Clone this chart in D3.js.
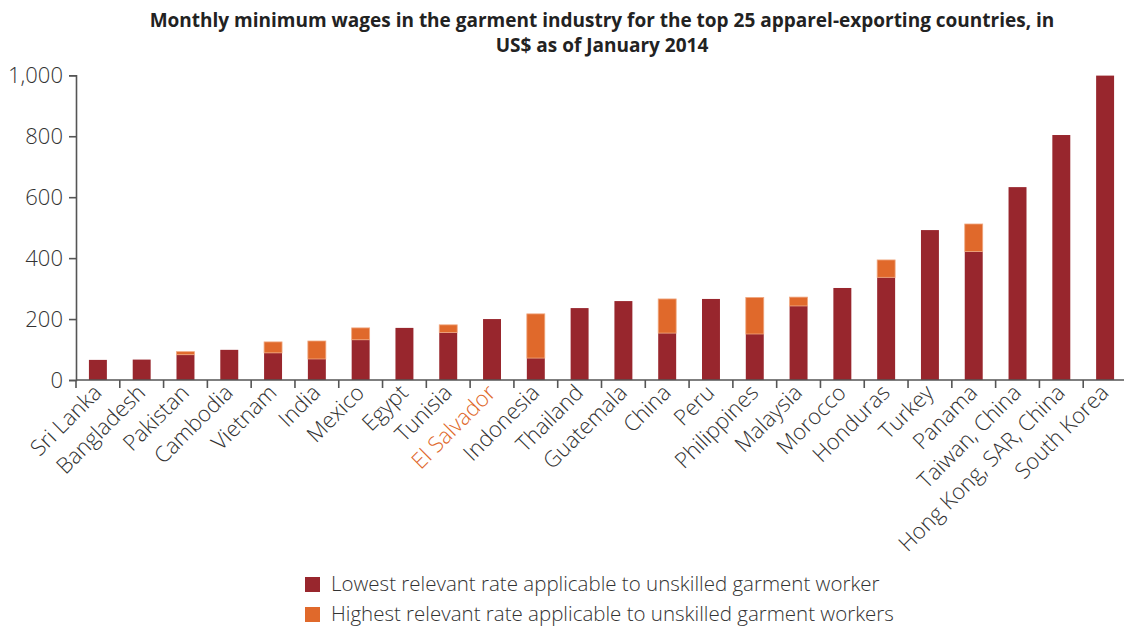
<!DOCTYPE html>
<html>
<head>
<meta charset="utf-8">
<script src="https://cdn.jsdelivr.net/npm/d3@7"></script>
<style>
  body { margin: 0; background: #fff; }
  text { font-family: "Open Sans", sans-serif; }
</style>
</head>
<body>
<svg id="chart" width="1124" height="630"></svg>
<script>
// data
const countries = ["Sri Lanka", "Bangladesh", "Pakistan", "Cambodia", "Vietnam", "India", "Mexico", "Egypt",
  "Tunisia", "El Salvador", "Indonesia", "Thailand", "Guatemala", "China", "Peru", "Philippines",
  "Malaysia", "Morocco", "Honduras", "Turkey", "Panama", "Taiwan, China", "Hong Kong, SAR, China", "South Korea"]
const lowest = [66, 67, 83, 99, 89, 69, 132, 171, 156, 200, 72, 236, 259, 154, 266, 151,
  243, 302, 337, 492, 422, 633, 804, 999]
const highest = [null, null, 93, null, 125, 128, 171, null, 181, null, 217, null, null, 266, null, 271,
  272, null, 394, null, 512, null, null, null]
const yTicks = [0, 200, 400, 600, 800, 1000]
const legendLabels = ["Lowest relevant rate applicable to unskilled garment worker",
  "Highest relevant rate applicable to unskilled garment workers"]

const darkRed = "#98262d", orange = "#e0692b", axisCol = "#555", textCol = "#333"

let svg = d3.select("#chart")

let x = d3.scaleBand()
    .domain(countries)
    .range([76, 1127])
    .paddingInner(0.59)
    .paddingOuter(0.295)
let y = d3.scaleLinear()
    .domain([0, 1000])
    .range([380, 75.3])

// title
svg.append("g")
    .attr("text-anchor", "middle")
    .attr("font-weight", "bold")
    .attr("font-size", 19)
    .attr("fill", "#222")
    .selectAll("text")
    .data(["Monthly minimum wages in the garment industry for the top 25 apparel-exporting countries, in",
      "US$ as of January 2014"])
    .join("text")
    .attr("x", 602)
    .attr("y", (d, i) => 27 + i * 25)
    .text(d => d)

// bars - lowest rate
svg.append("g")
    .selectAll("rect")
    .data(countries)
    .join("rect")
    .attr("x", d => x(d))
    .attr("width", x.bandwidth())
    .attr("y", (d, i) => y(lowest[i]))
    .attr("height", (d, i) => y(0) - y(lowest[i]))
    .attr("fill", darkRed)

// bars - extra up to highest rate
let hi = countries.map((c, i) => ({c, lo: lowest[i], hi: highest[i]})).filter(d => d.hi != null)
svg.append("g")
    .selectAll("rect")
    .data(hi)
    .join("rect")
    .attr("x", d => x(d.c))
    .attr("width", x.bandwidth())
    .attr("y", d => y(d.hi))
    .attr("height", d => y(d.lo) - y(d.hi))
    .attr("fill", orange)
    .attr("stroke", "#f0a880")
    .attr("stroke-width", 0.8)

// y axis
let yAxis = svg.append("g")
    .attr("transform", "translate(76,0)")
    .call(d3.axisLeft(y).tickValues(yTicks).tickSize(7).tickPadding(6).tickFormat(d3.format(",")))
yAxis.select(".domain").attr("stroke", axisCol).attr("stroke-width", 1.6)
yAxis.selectAll(".tick line").attr("stroke", axisCol).attr("stroke-width", 1.6)
yAxis.selectAll(".tick text")
    .attr("font-size", 22)
    .attr("font-family", "'Open Sans', sans-serif")
    .attr("font-weight", 300)
    .attr("fill", textCol)

// x axis: line plus ticks between categories
let step = x.step()
let xg = svg.append("g")
xg.append("line")
    .attr("x1", 76).attr("x2", 1124)
    .attr("y1", y(0)).attr("y2", y(0))
    .attr("stroke", axisCol).attr("stroke-width", 1.6)
xg.selectAll("line.tk")
    .data(d3.range(countries.length + 1))
    .join("line")
    .attr("class", "tk")
    .attr("x1", i => 76 + i * step).attr("x2", i => 76 + i * step)
    .attr("y1", y(0)).attr("y2", y(0) + 8)
    .attr("stroke", axisCol).attr("stroke-width", 1.6)

xg.selectAll("text")
    .data(countries)
    .join("text")
    .attr("text-anchor", "end")
    .attr("font-size", 22)
    .attr("font-weight", 300)
    .attr("fill", d => d === "El Salvador" ? orange : textCol)
    .attr("transform", d => `translate(${x(d) + x.bandwidth() / 2 + 5},${y(0) + 14}) rotate(-45)`)
    .text(d => d)

// legend
let lg = svg.append("g")
    .selectAll("g")
    .data(legendLabels)
    .join("g")
    .attr("transform", (d, i) => `translate(305,${577 + i * 30})`)
lg.append("rect")
    .attr("width", 15).attr("height", 15)
    .attr("fill", (d, i) => i === 0 ? darkRed : orange)
lg.append("text")
    .attr("x", 26).attr("y", 14)
    .attr("font-size", 20.5)
    .attr("font-weight", 300)
    .attr("fill", textCol)
    .text(d => d)
</script>
</body>
</html>
